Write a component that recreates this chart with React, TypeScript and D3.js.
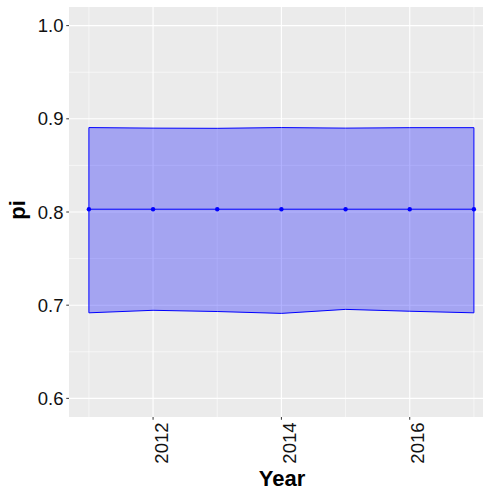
import React from "react";
import * as d3 from "d3";

const years = [2011, 2012, 2013, 2014, 2015, 2016, 2017];
const piMean = [0.803, 0.803, 0.803, 0.803, 0.803, 0.803, 0.803];
const piUpper = [0.8906, 0.8900, 0.8898, 0.8906, 0.8900, 0.8905, 0.8905];
const piLower = [0.6918, 0.6945, 0.6932, 0.6912, 0.6955, 0.6935, 0.6918];
const xMajor = [2012, 2014, 2016];
const xMinor = [2011, 2013, 2015, 2017];
const yMajor = [0.6, 0.7, 0.8, 0.9, 1.0];
const yMinor = [0.65, 0.75, 0.85, 0.95];

const W = 483;
const H = 491;
const left = 69;
const top = 7;
const bottom = 417;

export default function App() {
  const x = d3.scaleLinear().domain([2010.69, 2017.3]).range([left, left + 6.61 * 64.17]);
  const y = d3.scaleLinear().domain([0.58, 1.02]).range([bottom, top]);
  const rows = years.map((yr, i) => ({ yr, m: piMean[i], lo: piLower[i], hi: piUpper[i] }));

  const area = d3
    .area<any>()
    .x((d) => x(d.yr))
    .y0((d) => y(d.lo))
    .y1((d) => y(d.hi));
  const line = d3
    .line<any>()
    .x((d) => x(d.yr))
    .y((d) => y(d.m));
  const right = x.range()[1];

  return (
    <svg
      width={W}
      height={H}
      style={{ position: "absolute", left: 0, top: 0, background: "#fff" }}
      fontFamily="Liberation Sans, Arial, sans-serif"
    >
      <rect x={left} y={top} width={right - left} height={bottom - top} fill="#EBEBEB" />
      {yMinor.map((v) => (
        <line key={"ym" + v} x1={left} x2={right} y1={y(v)} y2={y(v)} stroke="#fff" strokeWidth={0.55} />
      ))}
      {xMinor.map((v) => (
        <line key={"xm" + v} x1={x(v)} x2={x(v)} y1={top} y2={bottom} stroke="#fff" strokeWidth={0.55} />
      ))}
      {yMajor.map((v) => (
        <line key={"yM" + v} x1={left} x2={right} y1={y(v)} y2={y(v)} stroke="#fff" strokeWidth={1.1} />
      ))}
      {xMajor.map((v) => (
        <line key={"xM" + v} x1={x(v)} x2={x(v)} y1={top} y2={bottom} stroke="#fff" strokeWidth={1.1} />
      ))}

      {/* ribbon */}
      <path d={area(rows) || ""} fill="#0000FF" fillOpacity={0.3} stroke="none" />
      <path d={d3.line<any>().x((d) => x(d.yr)).y((d) => y(d.hi))(rows) || ""} fill="none" stroke="#0000FF" strokeWidth={1} />
      <path d={d3.line<any>().x((d) => x(d.yr)).y((d) => y(d.lo))(rows) || ""} fill="none" stroke="#0000FF" strokeWidth={1} />
      <line x1={x(years[0])} x2={x(years[0])} y1={y(piUpper[0])} y2={y(piLower[0])} stroke="#0000FF" strokeWidth={1} />
      <line
        x1={x(years[years.length - 1])}
        x2={x(years[years.length - 1])}
        y1={y(piUpper[years.length - 1])}
        y2={y(piLower[years.length - 1])}
        stroke="#0000FF"
        strokeWidth={1}
      />

      {/* mean line + points */}
      <path d={line(rows) || ""} fill="none" stroke="#0000FF" strokeWidth={1} />
      {rows.map((d) => (
        <circle key={d.yr} cx={x(d.yr)} cy={y(d.m)} r={2.2} fill="#0000FF" />
      ))}

      {/* y axis */}
      {yMajor.map((v) => (
        <g key={"yt" + v}>
          <line x1={left - 2.75} x2={left} y1={y(v)} y2={y(v)} stroke="#333" strokeWidth={1} />
          <text x={left - 5.5} y={y(v)} dy="0.36em" textAnchor="end" fontSize={18.5} fill="#111">
            {v.toFixed(1)}
          </text>
        </g>
      ))}
      {/* x axis */}
      {xMajor.map((v) => (
        <g key={"xt" + v}>
          <line x1={x(v)} x2={x(v)} y1={bottom} y2={bottom + 2.75} stroke="#333" strokeWidth={1} />
          <text
            transform={`translate(${x(v) + 14.5},${bottom + 5.5}) rotate(-90)`}
            textAnchor="end"
            fontSize={18.5}
            fill="#111"
          >
            {v}
          </text>
        </g>
      ))}

      <text x={282} y={486} textAnchor="middle" fontSize={22} fontWeight="bold" fill="#000">
        Year
      </text>
      <text transform={`translate(25,210) rotate(-90)`} textAnchor="middle" fontSize={22} fontWeight="bold" fill="#000">
        pi
      </text>
    </svg>
  );
}
